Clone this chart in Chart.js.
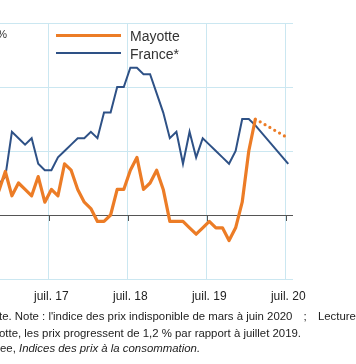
<!DOCTYPE html>
<html><head><meta charset="utf-8">
<script src="https://cdn.jsdelivr.net/npm/chart.js@4/dist/chart.umd.min.js"></script>
<style>
html,body{margin:0;padding:0;overflow:hidden;background:#fff;width:356px;height:364px;position:relative;}
#wrap{position:absolute;left:-40px;top:0;width:400px;height:310px;}
.t{position:absolute;font-family:"Liberation Sans",Arial,sans-serif;color:#222;white-space:nowrap;}
.pre{position:absolute;right:100%;top:0;}
.cap{font-size:11.4px;line-height:16px;}
.leg{font-size:14px;line-height:16px;color:#333;}
.bar{position:absolute;}
</style></head><body>
<div id="wrap"><canvas id="c" width="400" height="310"></canvas></div>
<div class="t" style="right:349px;top:28px;font-size:11px;line-height:13px;color:#333;">en %</div>
<div class="bar" style="left:56px;top:33.5px;width:65px;height:3.4px;background:#EC7C26;"></div>
<div class="bar" style="left:56px;top:52px;width:65px;height:1.8px;background:#2E5186;"></div>
<div class="t leg" style="left:130px;top:28px;">Mayotte</div>
<div class="t leg" style="left:130px;top:46px;">France*</div>
<div class="t cap" style="left:-1px;top:308px;"><span class="pre">* France hors Mayot</span>te. Note : l'indice des prix indisponible de mars à juin 2020<span style="word-spacing:8px"> ; </span>Lecture : en juillet 2020,</div>
<div class="t cap" style="left:-1px;top:324.5px;"><span class="pre">à May</span>otte, les prix progressent de 1,2 % par rapport à juillet 2019.</div>
<div class="t cap" style="left:0px;top:340px;"><span class="pre">Source : Ins</span>ee, <i>Indices des prix à la consommation.</i></div>
<script>
// Months (Nov 2016 -> Jul 2020)
const months = ['2016-11','2016-12',
 '2017-01','2017-02','2017-03','2017-04','2017-05','2017-06','2017-07','2017-08','2017-09','2017-10','2017-11','2017-12',
 '2018-01','2018-02','2018-03','2018-04','2018-05','2018-06','2018-07','2018-08','2018-09','2018-10','2018-11','2018-12',
 '2019-01','2019-02','2019-03','2019-04','2019-05','2019-06','2019-07','2019-08','2019-09','2019-10','2019-11','2019-12',
 '2020-01','2020-02','2020-03','2020-04','2020-05','2020-06','2020-07'];
// Year-on-year change in consumer prices (%)
const mayotte = [0.37,0.68,
 0.30,0.50,0.40,0.30,0.60,0.20,0.40,0.30,0.80,0.70,0.40,0.20,
 0.10,-0.10,-0.10,0.00,0.40,0.40,0.70,0.90,0.40,0.50,0.70,0.40,
 -0.10,-0.10,-0.10,-0.20,-0.30,-0.20,-0.10,-0.20,-0.20,-0.40,-0.20,0.20,
 1.00,1.50,null,null,null,null,1.20];
const france = [0.48,0.60,
 1.30,1.20,1.10,1.20,0.80,0.70,0.70,0.90,1.00,1.10,1.20,1.20,
 1.30,1.20,1.60,1.60,2.00,2.00,2.30,2.30,2.20,2.20,1.90,1.60,
 1.20,1.30,0.80,1.30,0.90,1.20,1.10,1.00,0.90,0.80,1.00,1.50,
 1.50,1.40,null,null,null,null,0.80];
const tickMonths = ['2017-07','2018-07','2019-07','2020-07'];
const tickLabels = ['juil. 17','juil. 18','juil. 19','juil. 20'];
const yTicks = [-1,0,1,2,3];

const ORANGE = '#EC7C26', BLUE = '#2E5186', GRID = '#cbe7f1', AXIS = '#555555';
const toPts = arr => arr.map((v,i)=>({x:i,y:v}));
const tickPos = tickMonths.map(m => months.indexOf(m));
const gridShift = 0.37;

const axisTicks = {
  id:'axisTicks',
  beforeDatasetsDraw(chart){
    const {ctx} = chart, xs = chart.scales.x, ys = chart.scales.y;
    const y0 = ys.getPixelForValue(0);
    ctx.save();
    ctx.strokeStyle = AXIS; ctx.lineWidth = 1;
    xs.ticks.forEach(t=>{
      const px = Math.round(xs.getPixelForValue(t.value))+0.5;
      ctx.beginPath(); ctx.moveTo(px,y0); ctx.lineTo(px,y0+6); ctx.stroke();
    });
    ctx.restore();
  }
};

new Chart(document.getElementById('c'),{
  type:'line',
  data:{datasets:[
    {label:'Mayotte',data:toPts(mayotte),borderColor:ORANGE,borderWidth:3.2,pointRadius:0,tension:0,
     borderJoinStyle:'round',spanGaps:true,
     segment:{
       borderDash: c => (c.p0.skip||c.p1.skip) ? [0,5.6] : undefined,
       borderCapStyle: c => (c.p0.skip||c.p1.skip) ? 'round' : 'butt'
     }},
    {label:'France*',data:toPts(france),borderColor:BLUE,borderWidth:2,pointRadius:0,tension:0,
     borderJoinStyle:'miter',spanGaps:true}
  ]},
  options:{
    responsive:false,animation:false,devicePixelRatio:1,
    layout:{padding:{top:23,right:67,left:0,bottom:0}},
    plugins:{legend:{display:false},tooltip:{enabled:false}},
    scales:{
      x:{type:'linear',min:0.19,max:44.72,
        afterBuildTicks:s=>{s.ticks = tickPos.map(p=>({value:p-gridShift}));},
        afterFit:s=>{s.height=31;},
        grid:{color:GRID,drawTicks:false,lineWidth:1},
        border:{display:false},
        ticks:{autoSkip:false,maxRotation:0,padding:10,labelOffset:2.4,color:'#222',
          font:{family:'"Liberation Sans", Arial, sans-serif',size:12},
          callback:(v,i)=>tickLabels[i]}
      },
      y:{min:-1,max:3,
        afterBuildTicks:s=>{s.ticks = yTicks.map(v=>({value:v}));},
        afterFit:s=>{s.width=40;},
        grid:{color:c=>c.tick && c.tick.value===0 ? AXIS : GRID,drawTicks:false,lineWidth:1},
        border:{display:false},
        ticks:{color:'#333',padding:6,font:{family:'"Liberation Sans", Arial, sans-serif',size:12}}
      }
    }
  },
  plugins:[axisTicks]
});
</script>
</body></html>
